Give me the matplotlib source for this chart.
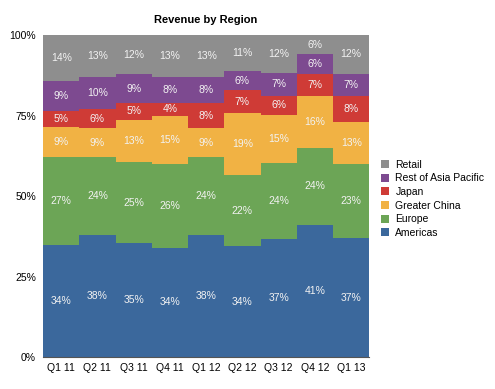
import matplotlib
matplotlib.use("Agg")
import matplotlib.pyplot as plt
from matplotlib.patches import Patch
import numpy as np

plt.rcParams['font.family'] = ['Liberation Sans', 'DejaVu Sans']

quarters = ["Q1 11", "Q2 11", "Q3 11", "Q4 11", "Q1 12", "Q2 12", "Q3 12", "Q4 12", "Q1 13"]
americas = [34, 38, 35, 34, 38, 34, 37, 41, 37]
europe = [27, 24, 25, 26, 24, 22, 24, 24, 23]
greater_china = [9, 9, 13, 15, 9, 19, 15, 16, 13]
japan = [5, 6, 5, 4, 8, 7, 6, 7, 8]
rest_asia = [9, 10, 9, 8, 8, 6, 7, 6, 7]
retail = [14, 13, 12, 13, 13, 11, 12, 6, 12]

series = [
    ("Americas", americas, "#3b689c"),
    ("Europe", europe, "#6ca556"),
    ("Greater China", greater_china, "#f1b244"),
    ("Japan", japan, "#cf3b36"),
    ("Rest of Asia Pacific", rest_asia, "#7d4a90"),
    ("Retail", retail, "#8e8e8e"),
]

fig = plt.figure(figsize=(4.95, 3.89), dpi=100)
ax = fig.add_axes([0.087, 0.082, 0.659, 0.828])

x = np.arange(len(quarters))
totals = np.sum([np.array(v, dtype=float) for _, v, _ in series], axis=0)
bottom = np.zeros(len(quarters))
for name, vals, color in series:
    v = np.array(vals, dtype=float)
    h = v / totals * 100
    ax.bar(x, h, width=1.0, bottom=bottom, color=color, edgecolor='none', linewidth=0)
    for xi, bi, hi, lab in zip(x, bottom, h, vals):
        ax.text(xi, bi + hi / 2, f"{lab}%", ha='center', va='center',
                color='#f2f2f2', fontsize=7.5)
    bottom += h

ax.set_xlim(-0.5, len(quarters) - 0.5)
ax.set_ylim(0, 100)
ax.set_xticks(x)
ax.set_xticklabels(quarters, fontsize=7.5)
ax.set_yticks([0, 25, 50, 75, 100])
ax.set_yticklabels(["0%", "25%", "50%", "75%", "100%"], fontsize=7.5)
ax.tick_params(axis='y', length=0, pad=5)
ax.tick_params(axis='x', length=0, pad=4)
for s in ['top', 'right', 'left']:
    ax.spines[s].set_visible(False)
ax.spines['bottom'].set_color('#555555')
ax.spines['bottom'].set_linewidth(0.8)

ax.set_title("Revenue by Region", fontsize=8, fontweight='bold', pad=9)

handles = [Patch(facecolor=c, edgecolor='none', label=n) for n, _, c in reversed(series)]
fig.legend(handles=handles, loc='upper left', bbox_to_anchor=(0.761, 0.6),
           frameon=False, fontsize=7.5, handlelength=0.8, handleheight=0.8,
           handletextpad=0.6, labelspacing=0.35, borderaxespad=0)

fig.savefig("out.png", dpi=100)
